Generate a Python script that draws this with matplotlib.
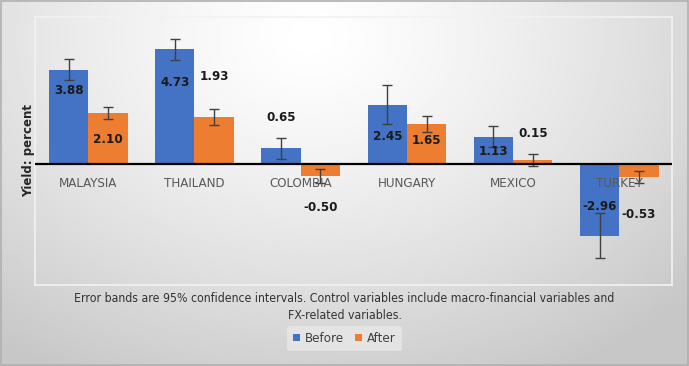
import numpy as np
import matplotlib.pyplot as plt
from matplotlib.patches import Rectangle

countries = ["MALAYSIA", "THAILAND", "COLOMBIA", "HUNGARY", "MEXICO", "TURKEY"]
before = [3.88, 4.73, 0.65, 2.45, 1.13, -2.96]
after = [2.10, 1.93, -0.50, 1.65, 0.15, -0.53]
before_err = [0.43, 0.43, 0.44, 0.80, 0.44, 0.92]
after_err = [0.24, 0.33, 0.29, 0.33, 0.25, 0.24]

# where Excel left the data labels (data units)
before_label_y = [3.02, 3.35, 1.90, 1.12, 0.50, -1.74]
after_label_y = [0.99, 3.60, -1.78, 0.95, 1.24, -2.10]

blue = "#4472C4"
orange = "#ED7D31"

fig = plt.figure(figsize=(6.89, 3.66), dpi=100)

# soft radial grey background
bg = fig.add_axes([0, 0, 1, 1], zorder=-10)
xx, yy = np.meshgrid(np.linspace(0, 1, 400), np.linspace(0, 1, 220))
r = np.sqrt(((xx - 0.45) / 1.0) ** 2 + ((yy - 0.9) / 1.4) ** 2)
shade = 1.0 - 0.22 * np.clip(r / 0.75, 0, 1) ** 1.3
bg.imshow(shade, cmap="gray", vmin=0, vmax=1, extent=[0, 1, 0, 1],
          origin="lower", aspect="auto")
bg.add_patch(Rectangle((0.001, 0.002), 0.997, 0.995, fill=False,
                       edgecolor="#b0b0b0", linewidth=1.2))
bg.set_xlim(0, 1)
bg.set_ylim(0, 1)
bg.axis("off")

ax = fig.add_axes([0.051, 0.221, 0.925, 0.733])
ax.patch.set_alpha(0)
x = np.arange(len(countries))
w = 0.37

txt = dict(family="DejaVu Sans", stretch="condensed")

ax.bar(x - w / 2, before, w, color=blue, label="Before", zorder=2)
ax.bar(x + w / 2, after, w, color=orange, label="After", zorder=2)
ax.errorbar(x - w / 2, before, yerr=before_err, fmt="none", ecolor="#404040",
            elinewidth=1, capsize=3.5, capthick=1, zorder=3)
ax.errorbar(x + w / 2, after, yerr=after_err, fmt="none", ecolor="#404040",
            elinewidth=1, capsize=3.5, capthick=1, zorder=3)
ax.axhline(0, color="black", linewidth=1.6, zorder=4)

for i in range(len(countries)):
    ax.text(x[i] - w / 2, before_label_y[i], f"{before[i]:.2f}", ha="center",
            va="center", fontsize=9.5, fontweight="bold", color="#1a1a1a",
            zorder=5, **txt)
    ax.text(x[i] + w / 2, after_label_y[i], f"{after[i]:.2f}", ha="center",
            va="center", fontsize=9.5, fontweight="bold", color="#1a1a1a",
            zorder=5, **txt)
    ax.text(x[i], -0.79, countries[i], ha="center", va="center", fontsize=9.5,
            color="#595959", zorder=5, **txt)

ax.set_xlim(-0.5, len(countries) - 0.5)
ax.set_ylim(-5.0, 6.07)
ax.set_xticks([])
ax.set_yticks([])
for s in ax.spines.values():
    s.set_color("#f2f2f2")
    s.set_linewidth(1.2)

fig.text(0.041, 0.59, "Yield: percent", rotation=90, ha="center", va="center",
         fontsize=8.5, fontweight="bold", color="#262626", family="DejaVu Sans")

fig.text(0.5, 0.185, "Error bands are 95% confidence intervals. Control variables include macro-financial variables and",
         ha="center", va="center", fontsize=8.8, color="#333333", **txt)
fig.text(0.5, 0.137, "FX-related variables.", ha="center", va="center",
         fontsize=8.8, color="#333333", **txt)

leg = fig.legend(loc="center", bbox_to_anchor=(0.5, 0.074), ncol=2, frameon=True,
                 handlelength=0.5, handleheight=0.5,
                 handletextpad=0.4, columnspacing=0.8, borderpad=0.45,
                 prop={"family": "DejaVu Sans", "stretch": "condensed", "size": 9.5})
leg.get_frame().set_facecolor("#e8e8e8")
leg.get_frame().set_edgecolor("none")
leg.get_frame().set_alpha(0.8)
for t in leg.get_texts():
    t.set_color("#404040")

fig.savefig("out.png", dpi=100)
